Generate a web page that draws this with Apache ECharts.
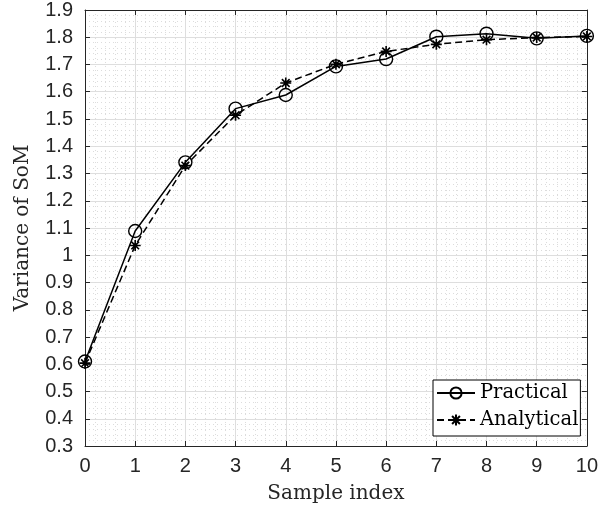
<!DOCTYPE html>
<html>
<head>
<meta charset="utf-8">
<script src="https://cdn.jsdelivr.net/npm/echarts@6/dist/echarts.min.js"></script>
<style>html,body{margin:0;padding:0;background:#fff;}#c{width:601px;height:514px;}</style>
</head>
<body>
<div id="c"></div>
<script>
const sampleIndex = [0, 1, 2, 3, 4, 5, 6, 7, 8, 9, 10];
const practical = [0.61, 1.089, 1.341, 1.538, 1.588, 1.693, 1.720, 1.802, 1.813, 1.796, 1.805];
const analytical = [0.604, 1.036, 1.329, 1.514, 1.632, 1.701, 1.748, 1.774, 1.791, 1.799, 1.803];
const seriesNames = ['Practical', 'Analytical'];
const xTitle = 'Sample index';
const yTitle = 'Variance of SoM';

const axisColor = '#262626';
const tickFont = { fontFamily: 'Liberation Sans', fontSize: 20, color: '#262626' };
const serifFont = 'DejaVu Serif';
const starPath = 'path://M0,5 L10,5 M5,0 L5,10 M1.5,1.5 L8.5,8.5 M8.5,1.5 L1.5,8.5';

const pairs = (ys) => sampleIndex.map((x, i) => [x, ys[i]]);

const chart = echarts.init(document.getElementById('c'), null, { renderer: 'canvas' });
chart.setOption({
  animation: false,
  backgroundColor: '#fff',
  grid: { left: 85, right: 9, top: 7, bottom: 68, containLabel: false },
  legend: {
    orient: 'vertical',
    left: 433, top: 380,
    backgroundColor: '#fff',
    borderColor: '#000', borderWidth: 1,
    padding: [3, 2, 6, 3],
    itemWidth: 38, itemHeight: 14, itemGap: 7,
    textStyle: { fontFamily: serifFont, fontSize: 19.5, color: '#000', lineHeight: 20 },
    data: seriesNames
  },
  xAxis: [{
    type: 'value', min: 0, max: 10, interval: 1,
    name: xTitle, nameLocation: 'middle', nameGap: 38,
    nameTextStyle: { fontFamily: serifFont, fontSize: 20, color: '#262626' },
    axisLine: { show: true, onZero: false, lineStyle: { color: axisColor, width: 1 } },
    axisTick: { show: true, inside: true, length: 5, lineStyle: { color: axisColor } },
    axisLabel: Object.assign({ margin: 10 }, tickFont),
    splitLine: { show: true, lineStyle: { color: '#dedede', width: 1 } },
    minorTick: { show: true, splitNumber: 5, length: 0 },
    minorSplitLine: { show: true, lineStyle: { color: '#dcdcdc', width: 1, type: [1, 3] } }
  }, {
    type: 'value', min: 0, max: 10, interval: 1, position: 'top',
    axisLine: { show: true, onZero: false, lineStyle: { color: axisColor, width: 1 } },
    axisTick: { show: true, inside: true, length: 5, lineStyle: { color: axisColor } },
    axisLabel: { show: false }, splitLine: { show: false }
  }],
  yAxis: [{
    type: 'value', min: 0.3, max: 1.9, interval: 0.1,
    name: yTitle, nameLocation: 'middle', nameGap: 52,
    nameTextStyle: { fontFamily: serifFont, fontSize: 20, color: '#262626' },
    axisLine: { show: true, onZero: false, lineStyle: { color: axisColor, width: 1 } },
    axisTick: { show: true, inside: true, length: 5, lineStyle: { color: axisColor } },
    axisLabel: Object.assign({ margin: 12 }, tickFont),
    splitLine: { show: true, lineStyle: { color: '#dedede', width: 1 } },
    minorTick: { show: true, splitNumber: 5, length: 0 },
    minorSplitLine: { show: true, lineStyle: { color: '#dcdcdc', width: 1, type: [1, 3] } }
  }, {
    type: 'value', min: 0.3, max: 1.9, interval: 0.1, position: 'right',
    axisLine: { show: true, onZero: false, lineStyle: { color: axisColor, width: 1 } },
    axisTick: { show: true, inside: true, length: 5, lineStyle: { color: axisColor } },
    axisLabel: { show: false }, splitLine: { show: false }
  }],
  series: [{
    name: seriesNames[0], type: 'line', data: pairs(practical),
    symbol: 'circle', symbolSize: 13,
    lineStyle: { color: '#000', width: 1.5, type: 'solid' },
    itemStyle: { color: 'rgba(0,0,0,0)', borderColor: '#000', borderWidth: 1.4 },
    z: 3
  }, {
    name: seriesNames[1], type: 'line', data: pairs(analytical),
    symbol: starPath, symbolSize: 11, symbolKeepAspect: true,
    lineStyle: { color: '#000', width: 1.5, type: [7, 4] },
    itemStyle: { color: '#000', borderColor: '#000', borderWidth: 1.6 },
    z: 4
  }]
});
</script>
</body>
</html>
